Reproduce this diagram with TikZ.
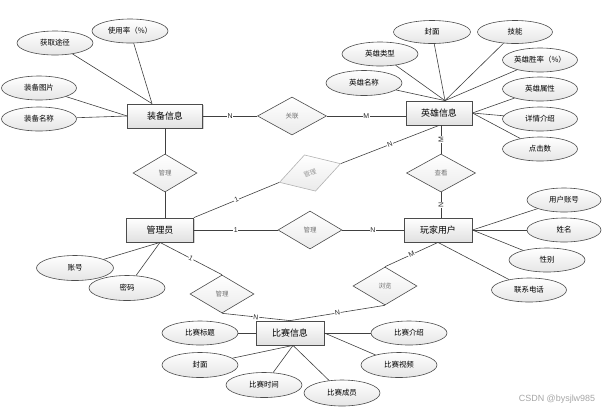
\documentclass[tikz,border=0pt]{standalone}
\usepackage{fontspec}
\setmainfont{Noto Sans CJK SC}
\newfontfamily\latin{Liberation Sans}
\usetikzlibrary{shapes.geometric,shadows,calc}
\begin{document}
\begin{tikzpicture}[x=1bp,y=-1bp,
 ent/.style={draw=black!70, line width=0.8bp, rectangle, minimum width=67bp, minimum height=24bp, inner sep=0pt,
   top color=white, bottom color=black!12, drop shadow={shadow xshift=1.2bp, shadow yshift=-1.2bp, opacity=0.35},
   font=\fontsize{9}{10}\selectfont},
 attr/.style={draw=black!70, line width=0.6bp, ellipse, minimum width=76bp, minimum height=24bp, inner sep=0pt,
   top color=white, bottom color=black!10, font=\fontsize{7.5}{9}\selectfont},
 rel/.style={draw=black!70, line width=0.6bp, diamond, minimum width=64bp, minimum height=38bp, inner sep=0pt,
   top color=white, bottom color=black!8, text=black!55, font=\fontsize{6.5}{8}\selectfont},
 ln/.style={draw=black!75, line width=0.6bp},
 lab/.style={fill=white, inner sep=0.6bp, text=black!85, font=\latin\fontsize{7}{8}\selectfont}
]
\useasboundingbox (0,0) rectangle (609,412);

% entities
\node[ent, minimum width=75bp] (equip) at (165,116) {装备信息};
\node[ent, minimum width=66bp] (hero) at (439,113) {英雄信息};
\node[ent] (admin) at (160,230) {管理员};
\node[ent, minimum width=68bp] (player) at (438,230) {玩家用户};
\node[ent, minimum width=68bp] (match) at (290,333) {比赛信息};

% relationships
\node[rel, minimum width=69bp] (r1) at (292,116) {关联};
\node[rel] (r2) at (165,173) {管理};
\node[rel, rotate=17, draw=black!30, text=black!40] (r3) at (310,173) {管理};
\node[rel, minimum width=69bp] (r4) at (441,173) {查看};
\node[rel] (r5) at (310,230) {管理};
\node[rel] (r6) at (222,294) {管理};
\node[rel] (r7) at (385,286) {浏览};

% attributes of equip
\node[attr] (e1) at (55,43) {获取途径};
\node[attr] (e2) at (130,31) {使用率（\%）};
\node[attr, minimum width=75bp] (e3) at (39,88) {装备图片};
\node[attr, minimum width=75bp] (e4) at (39,119) {装备名称};
% attributes of hero
\node[attr, minimum width=77bp, minimum height=23bp] (h1) at (432,32) {封面};
\node[attr, minimum width=75bp, minimum height=23bp] (h2) at (515,32) {技能};
\node[attr] (h3) at (380,54) {英雄类型};
\node[attr, minimum height=25bp] (h4) at (364,83) {英雄名称};
\node[attr, minimum width=75bp] (h5) at (540,60) {英雄胜率（\%）};
\node[attr, minimum width=75bp] (h6) at (540,89) {英雄属性};
\node[attr, minimum width=75bp] (h7) at (540,119) {详情介绍};
\node[attr, minimum width=75bp] (h8) at (540,149) {点击数};
% attributes of player
\node[attr, minimum width=74bp] (p1) at (564,200) {用户账号};
\node[attr, minimum width=74bp] (p2) at (564,230) {姓名};
\node[attr] (p3) at (547,260) {性别};
\node[attr, minimum width=75bp] (p4) at (529,290) {联系电话};
% attributes of admin
\node[attr, minimum width=77bp, minimum height=25bp] (a1) at (75,268) {账号};
\node[attr, minimum height=25bp] (a2) at (127,288) {密码};
% attributes of match
\node[attr] (m1) at (200,333) {比赛标题};
\node[attr, minimum height=25bp] (m2) at (200,365) {封面};
\node[attr, minimum height=25bp] (m3) at (264,385) {比赛时间};
\node[attr, minimum height=26bp] (m4) at (342,393) {比赛成员};
\node[attr] (m5) at (409,333) {比赛介绍};
\node[attr, minimum height=25bp] (m6) at (399,365) {比赛视频};

% convergence points
\coordinate (eqT) at ($(equip.north)+(-13,0)$);
\coordinate (heT) at ($(hero.north)+(6,0)$);
\coordinate (maB) at ($(match.south)+(3,0)$);

% attribute lines
\foreach \a in {e1,e2} \draw[ln] (\a) -- (eqT);
\foreach \a in {e3,e4} \draw[ln] (\a) -- (equip.west);
\foreach \a in {h1,h2,h3,h4,h5} \draw[ln] (\a) -- (heT);
\foreach \a in {h6,h7,h8} \draw[ln] (\a) -- (hero.east);
\foreach \a in {p1,p2,p3} \draw[ln] (\a) -- (player.east);
\draw[ln] (p4) -- (player.south);
\foreach \a in {a1,a2} \draw[ln] (\a) -- (admin.south);
\draw[ln] (m1) -- (match.west);
\foreach \a in {m2,m3,m4} \draw[ln] (\a) -- (maB);
\draw[ln] (m5) -- (match.east);
\draw[ln] (m6) -- (match.east);

% relationship lines
\draw[ln] (equip.east |- r1.west) -- node[lab]{N} (r1.west);
\draw[ln] (r1.east) -- node[lab]{M} (r1.east -| hero.west);
\draw[ln] (r2.north |- equip.south) -- (r2.north);
\draw[ln] (r2.south) -- (r2.south |- admin.north);
\draw[ln] (admin.north east) -- node[lab, sloped]{1} (r3.west);
\draw[ln] (r3.east) -- node[lab, sloped]{N} (hero.south);
\draw[ln] (r4.north |- hero.south) -- node[lab, rotate=90]{M} (r4.north);
\draw[ln] (r4.south) -- node[lab, rotate=90]{N} (r4.south |- player.north);
\draw[ln] (admin.east) -- node[lab]{1} (r5.west);
\draw[ln] (r5.east) -- node[lab]{N} (player.west);
\draw[ln] (admin.south) -- node[lab, sloped]{1} (r6.north);
\draw[ln] (r6.south) -- node[lab, sloped]{N} (match.north);
\draw[ln] (player.south) -- node[lab, sloped]{M} (r7.north);
\draw[ln] (r7.south) -- node[lab, sloped]{N} (match.north);

% watermark
\node[text=black!35, font=\latin\fontsize{9}{10}\selectfont] (wm) at (557,399) {CSDN @bysjlw985};
\end{tikzpicture}
\end{document}
